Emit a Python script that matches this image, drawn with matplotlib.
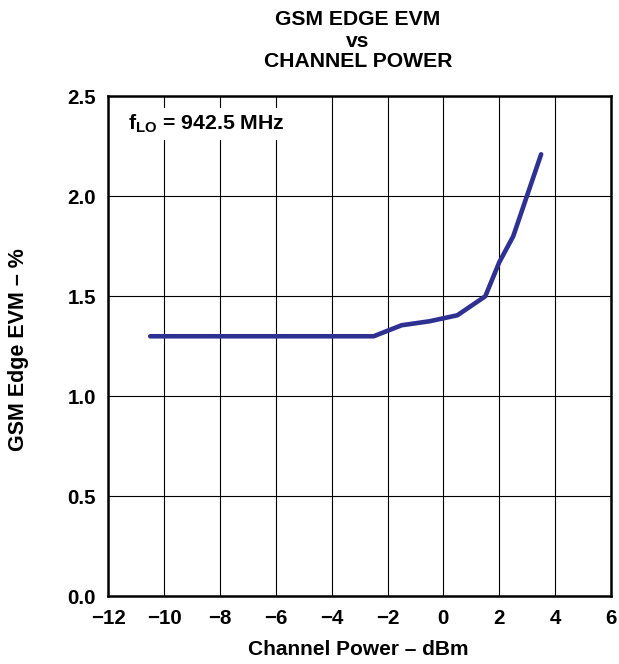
import matplotlib.pyplot as plt

plt.rcParams['font.family'] = ['Liberation Sans', 'DejaVu Sans']
plt.rcParams['font.weight'] = 'bold'
plt.rcParams['mathtext.fontset'] = 'custom'
plt.rcParams['mathtext.bf'] = 'Liberation Sans:bold'

# data
power = [-10.5, -2.5, -1.5, -0.5, 0.5, 1.5, 2.0, 2.5, 3.5]
evm = [1.30, 1.30, 1.355, 1.375, 1.405, 1.50, 1.67, 1.80, 2.21]

xticks = [-12, -10, -8, -6, -4, -2, 0, 2, 4, 6]
xlabels = ['\u221212', '\u221210', '\u22128', '\u22126', '\u22124', '\u22122', '0', '2', '4', '6']
yticks = [0.0, 0.5, 1.0, 1.5, 2.0, 2.5]

fig = plt.figure(figsize=(6.19, 6.64), dpi=100)
ax = fig.add_axes([0.175, 0.102, 0.812, 0.753])

ax.plot(power, evm, color='#2e3192', lw=3.3, solid_capstyle='round', zorder=3)

ax.set_xlim(-12, 6)
ax.set_ylim(0, 2.5)
ax.set_xticks(xticks)
ax.set_xticklabels(xlabels)
ax.set_yticks(yticks)
ax.set_yticklabels(['%.1f' % v for v in yticks])
ax.tick_params(length=0, labelsize=14.8, pad=9)
ax.grid(True, color='black', lw=0.8)
for s in ax.spines.values():
    s.set_linewidth(1.8)

fig.text(0.578, 0.022, 'Channel Power \u2013 dBm', ha='center', va='center', fontsize=15)
fig.text(0.030, 0.473, 'GSM Edge EVM \u2013 %', ha='center', va='center', fontsize=15.5, rotation=90)

fig.text(0.578, 0.970, 'GSM EDGE EVM', ha='center', va='center', fontsize=15.2)
fig.text(0.578, 0.938, 'vs', ha='center', va='center', fontsize=15.2)
fig.text(0.578, 0.907, 'CHANNEL POWER', ha='center', va='center', fontsize=15.2)

ax.text(-11.3, 2.333, r'f$_{\mathbf{LO}}$ = 942.5 MHz', fontsize=15.3, va='baseline', ha='left',
        bbox=dict(facecolor='white', edgecolor='none', pad=3), zorder=4)

fig.savefig('out.png', dpi=100)
